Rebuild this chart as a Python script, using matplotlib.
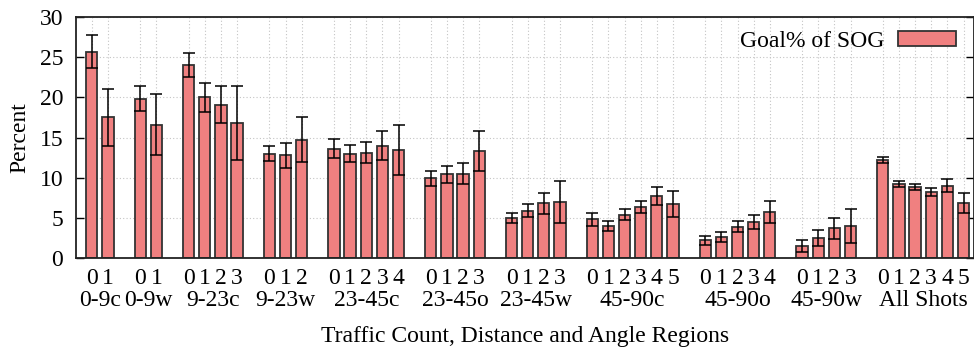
import matplotlib
matplotlib.use("Agg")
import matplotlib.pyplot as plt
import matplotlib.transforms as mtransforms
import numpy as np

# ---- data ----
group_names = ["0-9c", "0-9w", "9-23c", "9-23w", "23-45c", "23-45o",
               "23-45w", "45-90c", "45-90o", "45-90w", "All Shots"]
group_sizes = [2, 2, 4, 3, 5, 4, 4, 6, 5, 4, 6]
bar_labels = ["0", "1", "0", "1", "0", "1", "2", "3", "0", "1", "2",
              "0", "1", "2", "3", "4", "0", "1", "2", "3", "0", "1", "2", "3",
              "0", "1", "2", "3", "4", "5", "0", "1", "2", "3", "4",
              "0", "1", "2", "3", "0", "1", "2", "3", "4", "5"]
goal_pct = [25.7, 17.5,
            19.8, 16.6,
            24.0, 20.0, 19.1, 16.8,
            13.0, 12.8, 14.7,
            13.6, 13.0, 13.1, 14.0, 13.4,
            9.9, 10.4, 10.5, 13.3,
            5.0, 5.9, 6.8, 7.0,
            4.8, 4.0, 5.4, 6.3, 7.7, 6.7,
            2.2, 2.6, 3.9, 4.5, 5.7,
            1.5, 2.5, 3.7, 4.0,
            12.2, 9.2, 8.8, 8.2, 9.0, 6.9]
goal_err = [2.05, 3.5,
            1.55, 3.8,
            1.5, 1.8, 2.3, 4.55,
            0.95, 1.55, 2.8,
            1.2, 1.1, 1.3, 1.8, 3.1,
            0.95, 1.1, 1.35, 2.45,
            0.6, 0.85, 1.3, 2.6,
            0.85, 0.62, 0.65, 0.75, 1.1, 1.65,
            0.55, 0.6, 0.67, 0.83, 1.4,
            0.75, 0.98, 1.3, 2.1,
            0.33, 0.35, 0.37, 0.52, 0.83, 1.25]

# ---- positions (one empty slot between groups) ----
positions = []
group_centers = []
start = 0
for n in group_sizes:
    xs = list(range(start, start + n))
    positions.extend(xs)
    group_centers.append((xs[0] + xs[-1]) / 2)
    start += n + 1
positions = np.array(positions, dtype=float)

FS = 17
plt.rcParams['font.family'] = ['Liberation Serif', 'DejaVu Serif']
plt.rcParams['font.size'] = FS

W, H = 974, 351
fig = plt.figure(figsize=(W / 100, H / 100), dpi=100)
ax_left, ax_right, ax_top, ax_bottom = 75.7, 974.0, 17.0, 258.0
ax = fig.add_axes([ax_left / W, 1 - ax_bottom / H,
                   (ax_right - ax_left) / W, (ax_bottom - ax_top) / H])

bars = ax.bar(positions, goal_pct, width=0.7, color='#F08080',
              edgecolor='#333333', linewidth=1.3, zorder=2,
              label='Goal% of SOG')
ax.errorbar(positions, goal_pct, yerr=goal_err, fmt='none', ecolor='black',
            elinewidth=1.1, capsize=4.0, capthick=1.1, zorder=3)

ax.set_xlim(-1, 54.65)
ax.set_ylim(0, 30)
ax.set_yticks(range(0, 31, 5))
ax.set_xticks(positions)
ax.set_xticklabels([])
ax.tick_params(axis='x', length=0)
ax.tick_params(axis='y', direction='in', length=6, width=1, right=True,
               pad=9, labelsize=FS)

# grid
ax.set_axisbelow(True)
ax.grid(True, color='#c4c4c4', linestyle=(0, (1, 2)), linewidth=0.8, zorder=0)

for sp in ax.spines.values():
    sp.set_linewidth(1.3)
    sp.set_color('#222222')

# bar digit labels and group labels
trans = mtransforms.blended_transform_factory(ax.transData, ax.transAxes)
ah = ax_bottom - ax_top
for x, lab in zip(positions, bar_labels):
    ax.text(x, -(284 - ax_bottom) / ah, lab, transform=trans,
            ha='center', va='baseline', fontsize=FS)
for xc, name in zip(group_centers, group_names):
    ax.text(xc, -(306 - ax_bottom) / ah, name, transform=trans,
            ha='center', va='baseline', fontsize=FS)

ax.text(0.5, -(342 - ax_bottom) / ah, 'Traffic Count, Distance and Angle Regions',
        transform=ax.transAxes, ha='center', va='baseline', fontsize=FS)
fig.text(19.5 / W, 1 - 137.5 / H, 'Percent', rotation=90, ha='center',
         va='center', fontsize=FS)

leg = ax.legend(loc='upper right', bbox_to_anchor=(1 - 18 / (ax_right - ax_left), 1 - 14 / ah),
                frameon=False, markerfirst=False, handlelength=2.45,
                handleheight=0.62, handletextpad=0.6, borderpad=0,
                borderaxespad=0, fontsize=FS)

fig.savefig('out.png', dpi=100)
